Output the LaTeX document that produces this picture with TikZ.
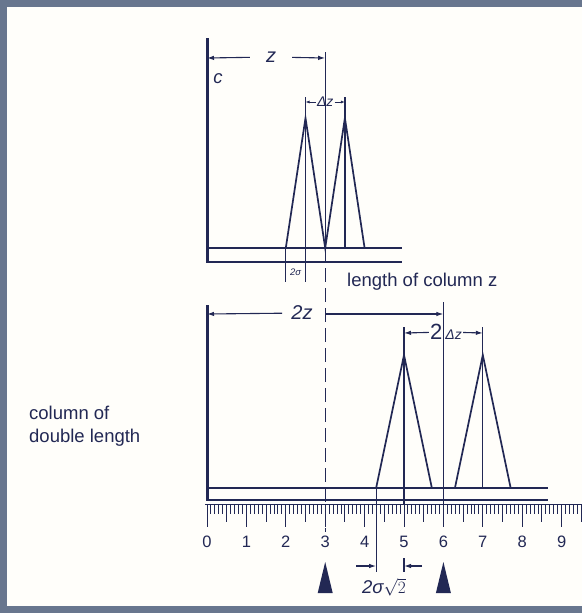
\documentclass[tikz,border=0pt]{standalone}
\usepackage{fontspec}
\setmainfont{Liberation Sans}
\usepackage{tikz}
\usetikzlibrary{arrows.meta,positioning,calc}
\definecolor{ink}{RGB}{34,40,84}
\definecolor{frame}{RGB}{104,118,142}
\definecolor{paper}{RGB}{255,254,250}
\newcommand{\ux}[1]{207+39.4*(#1)}
\tikzset{
  axis/.style={line width=3pt,ink},
  base/.style={line width=2.4pt,ink},
  peak/.style={line width=1.7pt,ink,line join=miter},
  guide/.style={line width=1.2pt,ink},
  cut/.style={line width=1.3pt,ink,dash pattern=on 14pt off 6pt},
  dim/.style={line width=1.1pt,ink,-{Latex[length=7pt,width=4.5pt]}},
  dimsmall/.style={line width=1pt,ink,-{Latex[length=4pt,width=3pt]}},
  lettering/.style={font=\fontsize{18.5}{23}\selectfont,text=ink,inner sep=1pt},
  num/.style={font=\fontsize{16.5}{18}\selectfont,text=ink,inner sep=0pt},
  pointer/.style={fill=ink,draw=none}
}
\begin{document}
\begin{tikzpicture}[x=1pt,y=-1pt]
  \useasboundingbox (0,0) rectangle (582,613);
  \fill[paper] (0,0) rectangle (582,613);
  \draw[line width=7pt,frame] (582,3.5) -- (3.5,3.5) -- (3.5,609.5) -- (582,609.5);

  % column of length z
  \draw[axis] (207,38) -- (207,263);
  \draw[base] (207,248) -- (402,248);
  \draw[base] (207,262) -- (402,262);
  \draw[peak] ({\ux{2}},248) -- ({\ux{2.5}},118) -- ({\ux{3}},248) -- ({\ux{3.5}},118) -- ({\ux{4}},248);
  \draw[guide] ({\ux{2.5}},97) -- ({\ux{2.5}},282);
  \draw[guide] ({\ux{3.5}},97) -- ({\ux{3.5}},248);
  \draw[guide] ({\ux{3}},52) -- ({\ux{3}},248);
  \draw[guide] ({\ux{2}},248) -- ({\ux{2}},282);
  \draw[cut] ({\ux{3}},248) -- ({\ux{3}},532);

  \node[lettering,font=\fontsize{18.5}{23}\selectfont\itshape] (c) at (218,79) {c};
  \coordinate (z0) at (207,58);
  \coordinate (z1) at ({\ux{3}},58);
  \node[lettering,font=\fontsize{20}{22}\selectfont\itshape,inner xsep=16pt] (zlab) at (271,57) {z};
  \draw[dim] (zlab) -- (z0);
  \draw[dim] (zlab) -- (z1);

  \coordinate (dz0) at ({\ux{2.5}},102);
  \coordinate (dz1) at ({\ux{3.5}},102);
  \node[lettering,font=\fontsize{14}{16}\selectfont\itshape,inner xsep=1pt] (dz) at ({\ux{3}},102) {Δz};
  \draw[dimsmall] (dz) -- (dz0);
  \draw[dimsmall] (dz) -- (dz1);

  \node[lettering,font=\fontsize{9.5}{11}\selectfont\itshape] (sig) at ({\ux{2.25}},272) {2σ};
  \node[lettering,anchor=west] (len) at (346,282) {length of column z};

  % column of double length
  \draw[axis] (207,305) -- (207,501);
  \draw[base] (207,488) -- (548,488);
  \draw[base] (207,500) -- (548,500);
  \draw[peak] ({\ux{5-0.7071}},488) -- ({\ux{5}},355) -- ({\ux{5+0.7071}},488);
  \draw[peak] ({\ux{7-0.7071}},488) -- ({\ux{7}},355) -- ({\ux{7+0.7071}},488);
  \draw[guide] ({\ux{5}},327) -- ({\ux{5}},504);
  \draw[guide] ({\ux{7}},327) -- ({\ux{7}},488);
  \draw[guide] ({\ux{6}},302) -- ({\ux{6}},526);
  \draw[guide] ({\ux{5-0.7071}},488) -- ({\ux{5-0.7071}},572);
  \draw[guide] ({\ux{5}},558) -- ({\ux{5}},572);

  \coordinate (tz0) at (207,314);
  \coordinate (tzm) at ({\ux{3}},314);
  \coordinate (tz1) at ({\ux{6}},314);
  \node[lettering,font=\fontsize{20}{22}\selectfont\itshape,inner xsep=9pt] (twoz) at (302,313) {2z};
  \draw[dim] (twoz) -- (tz0);
  \draw[dim] (tzm) -- (tz1);

  \coordinate (tdz0) at ({\ux{5}},333);
  \coordinate (tdz1) at ({\ux{7}},333);
  \node[lettering,inner xsep=1pt] (tdz) at (446,332)
    {{\fontsize{22}{24}\selectfont 2}\,{\fontsize{14}{16}\selectfont\itshape Δz}};
  \draw[dim] (tdz) -- (tdz0);
  \draw[dim] (tdz) -- (tdz1);

  \node[lettering,align=left,anchor=west] (dbl) at (28,426) {column of\\double length};

  % scale
  \draw[line width=0.8pt,ink] (205,504) -- (582,504);
  \foreach \k in {0,...,95}{
    \pgfmathtruncatemacro\r{mod(\k,10)}
    \ifnum\r=0 \def\tl{23}\else\ifnum\r=5 \def\tl{18}\else\def\tl{10}\fi\fi
    \draw[line width=0.9pt,ink] ({207+3.94*\k},504) -- ++(0,\tl);
  }
  \foreach \n in {0,...,9}
    \node[num] (n\n) at ({\ux{\n}},542) {\n};

  \coordinate (s0) at ({\ux{5-0.7071}},566);
  \coordinate (s1) at ({\ux{5}},566);
  \coordinate (s0out) at (356,566);
  \coordinate (s1out) at (422,566);
  \draw[dim] (s0out) -- (s0);
  \draw[dim] (s1out) -- (s1);
  \node[lettering,font=\fontsize{18.5}{23}\selectfont\itshape] (spread) at (384,587) {2σ$\sqrt{2}$};

  \foreach \v in {3,6}
    \fill[pointer] ({\ux{\v}},562) -- ({\ux{\v}+7.5},593) -- ({\ux{\v}-7.5},593) -- cycle;
\end{tikzpicture}
\end{document}
